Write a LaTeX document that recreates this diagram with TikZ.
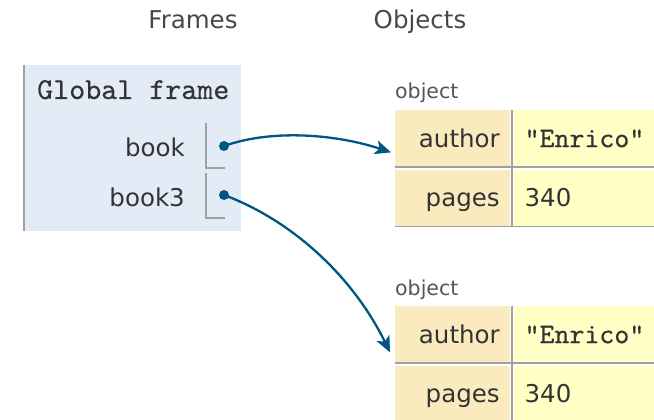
\documentclass[tikz,border=0pt]{standalone}
\usepackage{fontspec}
\setmainfont{DejaVu Sans}
\newfontfamily\codefont{lmmono10-regular.otf}[FakeBold=0.3]
\usepackage{tikz}
\usetikzlibrary{arrows.meta,positioning}
\definecolor{framebg}{HTML}{E2EBF6}
\definecolor{keybg}{HTML}{FAEBBF}
\definecolor{valbg}{HTML}{FFFFC6}
\definecolor{ptrcol}{HTML}{005583}
\definecolor{edgegray}{HTML}{A0A0A0}
\definecolor{txtdark}{HTML}{333333}
\definecolor{txtlabel}{HTML}{555555}
\tikzset{
    %Define standard arrow tip
    >={Stealth[length=16pt,width=14pt,inset=4pt]},
    %Define style for column headers
    header/.style={
           anchor=base,
           inner sep=0pt,
           text=txtdark!90,
           font=\fontsize{24.5}{28}\selectfont},
    %Define style for the frame box
    framebox/.style={
           rectangle,
           anchor=north west,
           inner sep=0pt,
           fill=framebg,
           minimum width=218pt,
           minimum height=166pt},
    frametitle/.style={
           anchor=base west,
           inner sep=0pt,
           text=txtdark,
           font=\codefont\fontsize{30.5}{34}\selectfont},
    varname/.style={
           anchor=base east,
           inner sep=0pt,
           text=txtdark,
           font=\fontsize{24.5}{28}\selectfont},
    ptr/.style={
           circle,
           fill=ptrcol,
           inner sep=0pt,
           minimum size=10pt},
    slotline/.style={
           draw=edgegray,
           line width=1.5pt},
    % Define style for object cells
    typelabel/.style={
           anchor=base west,
           inner sep=0pt,
           text=txtlabel,
           font=\fontsize{20.5}{24}\selectfont},
    keycell/.style={
           rectangle,
           anchor=north west,
           fill=keybg,
           inner sep=0pt,
           minimum width=115pt,
           minimum height=56pt,
           text width=94pt,
           align=right,
           text height=18pt,
           text depth=0pt,
           text=txtdark,
           font=\fontsize{24.5}{28}\selectfont},
    valcell/.style={
           rectangle,
           fill=valbg,
           inner sep=0pt,
           minimum width=163pt,
           minimum height=56pt,
           text width=141pt,
           align=left,
           text height=18pt,
           text depth=0pt,
           text=txtdark,
           font=\fontsize{24.5}{28}\selectfont},
    cellline/.style={
           draw=edgegray,
           line width=1.5pt},
    % Define arrow style
    pointer/.style={
           ->,
           draw=ptrcol,
           line width=2.3pt}
}

\begin{document}
\begin{tikzpicture}[x=1pt,y=-1pt,node distance=3pt]
\useasboundingbox (0,0) rectangle (654,420);
\clip (0,0) rectangle (654,420);
% headers
\node[header] (hframes) at (193,29) {Frames};
\node[header] (hobjects) at (420,29) {Objects};

% global frame
\node[framebox] (gframe) at (23,65) {};
\draw[draw=edgegray, line width=2pt] ([xshift=1pt]gframe.north west) -- ([xshift=1pt]gframe.south west);
\node[frametitle] (gtitle) at (37,99) {Global frame};
\node[varname] (vbook) at (185,157) {book};
\node[varname] (vbookthree) at (185,206) {book3};
\draw[slotline] (206,123) |- (225,168);
\draw[slotline] (206,173) |- (225,218);
\node[ptr] (ptrA) at (224,146) {};
\node[ptr] (ptrB) at (224,195) {};

% first object
\node[typelabel] (objA) at (395,99) {object};
\node[keycell] (kAauthor) at (395,110) {author};
\node[valcell, right=of kAauthor] (vAauthor) {\codefont\fontsize{28.5}{30}\selectfont "Enrico"};
\node[keycell, below=of kAauthor] (kApages) {pages};
\node[valcell, right=of kApages] (vApages) {340};
\draw[cellline] ([yshift=-0.75pt]kAauthor.south west) -- ([yshift=-0.75pt]vAauthor.south east);
\draw[cellline] ([yshift=-0.75pt]kApages.south west) -- ([yshift=-0.75pt]vApages.south east);
\draw[cellline] ([xshift=1.5pt]kAauthor.north east) -- ([xshift=1.5pt,yshift=-1.5pt]kApages.south east);

% second object
\node[typelabel] (objB) at (395,295) {object};
\node[keycell] (kBauthor) at (395,306) {author};
\node[valcell, right=of kBauthor] (vBauthor) {\codefont\fontsize{28.5}{30}\selectfont "Enrico"};
\node[keycell, below=of kBauthor] (kBpages) {pages};
\node[valcell, right=of kBpages] (vBpages) {340};
\draw[cellline] ([yshift=-0.75pt]kBauthor.south west) -- ([yshift=-0.75pt]vBauthor.south east);
\draw[cellline] ([xshift=1.5pt]kBauthor.north east) -- ([xshift=1.5pt]kBpages.south east);

% pointers
\draw[pointer] (ptrA.center) .. controls +(51,-18) and +(-51,-17) .. ([xshift=-4pt,yshift=14pt]kAauthor.south west);
\draw[pointer] (ptrB.center) .. controls +(72,27) and +(-35,-72) .. ([xshift=-5pt,yshift=10pt]kBauthor.south west);
\end{tikzpicture}
\end{document}
